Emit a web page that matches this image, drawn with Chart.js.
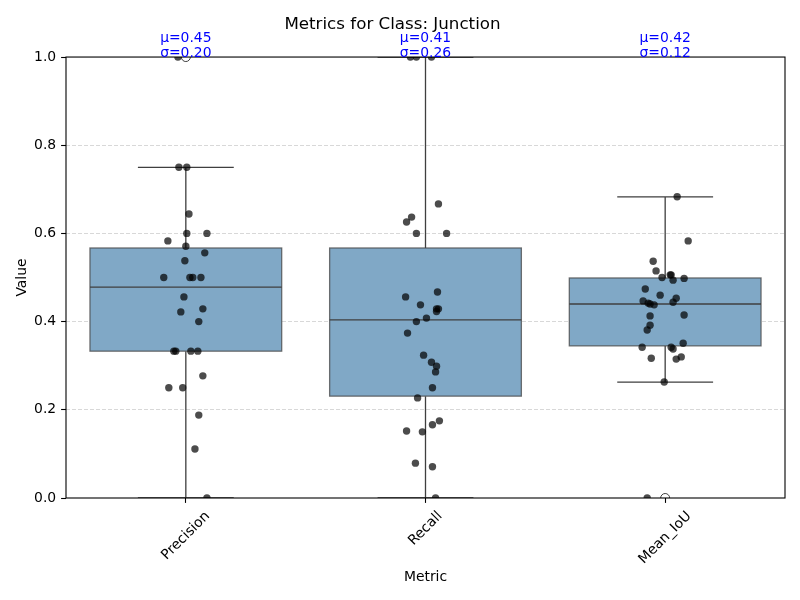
<!DOCTYPE html>
<html>
<head>
<meta charset="utf-8">
<script src="https://cdn.jsdelivr.net/npm/chart.js@4.4.1/dist/chart.umd.min.js"></script>
<style>
  html, body { margin: 0; padding: 0; background: #fff; }
</style>
</head>
<body>
<canvas id="myChart" width="800" height="600"></canvas>
<script>
const metrics = ['Precision', 'Recall', 'Mean_IoU'];

// strip points (value, horizontal jitter in category units)
const precisionValues = [1.0, 0.75, 0.75, 0.644, 0.6, 0.6, 0.583, 0.571, 0.556, 0.538, 0.5, 0.5, 0.5, 0.5,
  0.456, 0.429, 0.422, 0.4, 0.333, 0.333, 0.333, 0.333, 0.277, 0.25, 0.25, 0.188, 0.111, 0.0];
const precisionJitter = [-0.033, -0.029, 0.004, 0.013, 0.004, 0.088, -0.075, 0, 0.079, -0.004, -0.092, 0.017, 0.029, 0.063,
  -0.008, 0.071, -0.021, 0.054, -0.05, -0.042, 0.021, 0.05, 0.071, -0.071, -0.013, 0.054, 0.038, 0.088];

const recallValues = [1.0, 1.0, 1.0, 0.667, 0.637, 0.626, 0.6, 0.6, 0.467, 0.456, 0.438, 0.429, 0.429, 0.423,
  0.408, 0.4, 0.374, 0.324, 0.308, 0.299, 0.286, 0.25, 0.227, 0.175, 0.166, 0.152, 0.15, 0.079, 0.071, 0.0];
const recallJitter = [-0.063, -0.038, 0.025, 0.054, -0.058, -0.079, -0.038, 0.088, 0.05, -0.083, -0.021, 0.046, 0.054, 0.046,
  0.004, -0.038, -0.075, -0.008, 0.025, 0.046, 0.042, 0.029, -0.033, 0.058, 0.029, -0.079, -0.013, -0.042, 0.029, 0.042];

const iouValues = [0.683, 0.583, 0.537, 0.515, 0.506, 0.506, 0.5, 0.494, 0.498, 0.474, 0.46, 0.453, 0.444, 0.447, 0.442,
  0.44, 0.438, 0.415, 0.413, 0.392, 0.381, 0.351, 0.342, 0.342, 0.338, 0.317, 0.32, 0.315, 0.263, 0.0];
const iouJitter = [0.05, 0.096, -0.05, -0.038, 0.021, 0.025, -0.013, 0.033, 0.079, -0.083, -0.021, 0.046, 0.033, -0.092, -0.071,
  -0.063, -0.046, 0.079, -0.063, -0.063, -0.075, 0.075, -0.096, 0.025, 0.033, -0.058, 0.067, 0.046, -0.004, -0.075];

// box statistics
const whiskerLow = [0.0, 0.0, 0.263];
const q1 = [0.333, 0.231, 0.345];
const medians = [0.478, 0.404, 0.44];
const q3 = [0.567, 0.567, 0.499];
const whiskerHigh = [0.75, 1.0, 0.683];
const fliers = [[1.0], [], [0.0]];

const means = [0.45, 0.41, 0.42];
const stds = [0.20, 0.26, 0.12];

const yTicks = [0, 0.2, 0.4, 0.6, 0.8, 1.0];

const FONT = 'DejaVu Sans';

const toPoints = (vals, jit, idx) => vals.map((v, k) => ({ x: idx + jit[k], y: v }));

const boxPlugin = {
  id: 'boxes',
  beforeDatasetsDraw(chart) {
    const { ctx, chartArea, scales: { x, y } } = chart;
    ctx.save();
    ctx.beginPath();
    ctx.rect(chartArea.left, chartArea.top, chartArea.width, chartArea.height);
    ctx.clip();

    metrics.forEach((m, i) => {
      const xc = x.getPixelForValue(i);
      const xl = x.getPixelForValue(i - 0.4);
      const xr = x.getPixelForValue(i + 0.4);
      const cl = x.getPixelForValue(i - 0.2);
      const cr = x.getPixelForValue(i + 0.2);
      const yq1 = y.getPixelForValue(q1[i]);
      const yq3 = y.getPixelForValue(q3[i]);

      // whiskers + caps
      ctx.strokeStyle = '#3f3f3f';
      ctx.lineWidth = 1.3;
      ctx.beginPath();
      ctx.moveTo(xc, yq3);
      ctx.lineTo(xc, y.getPixelForValue(whiskerHigh[i]));
      ctx.moveTo(xc, yq1);
      ctx.lineTo(xc, y.getPixelForValue(whiskerLow[i]));
      ctx.moveTo(cl, y.getPixelForValue(whiskerHigh[i]));
      ctx.lineTo(cr, y.getPixelForValue(whiskerHigh[i]));
      ctx.moveTo(cl, y.getPixelForValue(whiskerLow[i]));
      ctx.lineTo(cr, y.getPixelForValue(whiskerLow[i]));
      ctx.stroke();

      // box
      ctx.fillStyle = 'rgb(128,168,198)';
      ctx.fillRect(xl, yq3, xr - xl, yq1 - yq3);
      ctx.strokeStyle = 'rgba(70,70,70,0.75)';
      ctx.lineWidth = 1.3;
      ctx.strokeRect(xl, yq3, xr - xl, yq1 - yq3);

      // median
      ctx.strokeStyle = '#3f3f3f';
      ctx.beginPath();
      ctx.moveTo(xl, y.getPixelForValue(medians[i]));
      ctx.lineTo(xr, y.getPixelForValue(medians[i]));
      ctx.stroke();

      // fliers
      ctx.strokeStyle = '#3f3f3f';
      ctx.lineWidth = 1;
      fliers[i].forEach((v) => {
        ctx.beginPath();
        ctx.arc(xc, y.getPixelForValue(v), 4.5, 0, Math.PI * 2);
        ctx.stroke();
      });
    });
    ctx.restore();
  },
};

const textPlugin = {
  id: 'texts',
  afterDatasetsDraw(chart) {
    const { ctx, chartArea: { left, right, top, bottom }, scales: { x, y } } = chart;
    ctx.save();

    // frame
    ctx.strokeStyle = '#000';
    ctx.lineWidth = 1.1;
    ctx.strokeRect(left, top, right - left, bottom - top);

    // mean / std annotations
    ctx.fillStyle = '#0000ff';
    ctx.font = '13.9px "' + FONT + '"';
    ctx.textAlign = 'center';
    ctx.textBaseline = 'middle';
    const yTop = y.getPixelForValue(1.0);
    metrics.forEach((m, i) => {
      const px = x.getPixelForValue(i);
      ctx.fillText('\u03bc=' + means[i].toFixed(2), px, yTop - 19);
      ctx.fillText('\u03c3=' + stds[i].toFixed(2), px, yTop - 4);
    });

    // rotated category labels
    ctx.fillStyle = '#000';
    metrics.forEach((m, i) => {
      const px = x.getPixelForValue(i);
      const w = ctx.measureText(m).width;
      const half = (w + 14) * Math.SQRT1_2 / 2;
      ctx.save();
      ctx.translate(px, bottom + 11 + half);
      ctx.rotate(-Math.PI / 4);
      ctx.fillText(m, 0, 0);
      ctx.restore();
    });
    ctx.restore();
  },
};

const config = {
  type: 'scatter',
  data: {
    datasets: [
      { data: toPoints(precisionValues, precisionJitter, 0) },
      { data: toPoints(recallValues, recallJitter, 1) },
      { data: toPoints(iouValues, iouJitter, 2) },
    ].map((d) => ({
      ...d,
      pointRadius: 3.7,
      pointHoverRadius: 3.7,
      pointBorderWidth: 0,
      pointBackgroundColor: 'rgba(0,0,0,0.7)',
    })),
  },
  options: {
    responsive: false,
    animation: false,
    layout: { padding: { top: 0, right: 15, left: 0, bottom: 0 } },
    plugins: {
      legend: { display: false },
      tooltip: { enabled: false },
      title: {
        display: true,
        text: 'Metrics for Class: Junction',
        color: '#000',
        font: { family: FONT, size: 16.7, weight: 'normal' },
        padding: { top: 15, bottom: 22 },
      },
    },
    scales: {
      x: {
        type: 'linear',
        min: -0.5,
        max: 2.5,
        afterBuildTicks: (scale) => { scale.ticks = metrics.map((m, i) => ({ value: i })); },
        afterFit: (scale) => { scale.height = 102; },
        ticks: { callback: () => '', padding: 0 },
        grid: { drawOnChartArea: false, drawTicks: true, tickLength: 4.9, tickColor: '#000', tickWidth: 1.1 },
        border: { display: false },
        title: {
          display: true,
          text: 'Metric',
          color: '#000',
          font: { family: FONT, size: 13.9 },
          padding: { top: 0, bottom: 14.7 },
        },
      },
      y: {
        min: 0,
        max: 1,
        afterBuildTicks: (scale) => { scale.ticks = yTicks.map((v) => ({ value: v })); },
        afterFit: (scale) => { scale.width = 66; },
        ticks: {
          color: '#000',
          padding: 4.9,
          font: { family: FONT, size: 13.9 },
          callback: (v) => Number(v).toFixed(1),
        },
        grid: {
          color: (c) => (c.tick && (c.tick.value === 0 || c.tick.value === 1) ? 'rgba(0,0,0,0)' : 'rgba(190,190,190,0.75)'),
          lineWidth: 0.8,
          tickColor: '#000',
          tickLength: 4.9,
          tickWidth: 1.1,
        },
        border: { display: false, dash: [4, 2] },
        title: {
          display: true,
          text: 'Value',
          color: '#000',
          font: { family: FONT, size: 13.9 },
          padding: { top: 13.7, bottom: 0 },
        },
      },
    },
  },
  plugins: [boxPlugin, textPlugin],
};

const ctx = document.getElementById('myChart');
const chart = new Chart(ctx, config);
</script>
</body>
</html>
